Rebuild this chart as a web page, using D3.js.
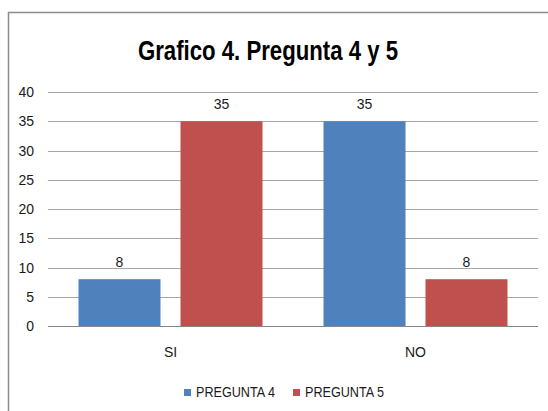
<!DOCTYPE html>
<html>
<head>
<meta charset="utf-8">
<script src="https://cdn.jsdelivr.net/npm/d3@7"></script>
<style>
  body { margin: 0; background: #fff; }
  text { font-family: "Liberation Sans", Arial, sans-serif; }
</style>
</head>
<body>
<div id="chart"></div>
<script>
// chart data
var categories = ["SI", "NO"];
var seriesNames = ["PREGUNTA 4", "PREGUNTA 5"];
var pregunta4 = [8, 35];
var pregunta5 = [35, 8];
var yTicks = [0, 5, 10, 15, 20, 25, 30, 35, 40];

var colors = ["#4F81BD", "#C0504D"];
var width = 548, height = 411;
var margin = {top: 92, right: 10, bottom: 85, left: 48};
var plotW = width - margin.left - margin.right;
var plotH = height - margin.top - margin.bottom;

var svg = d3.select("#chart").append("svg")
    .attr("width", width)
    .attr("height", height);

// outer frame (continues past the right and bottom edges)
svg.append("rect")
    .attr("x", 8.5).attr("y", 12.5)
    .attr("width", 600).attr("height", 500)
    .attr("fill", "none")
    .attr("stroke", "#8c8c8c")
    .attr("stroke-width", 1.5);

svg.append("text")
    .attr("x", 138).attr("y", 60)
    .attr("font-size", 27)
    .attr("font-weight", "bold")
    .attr("fill", "#000")
    .attr("textLength", 260)
    .attr("lengthAdjust", "spacingAndGlyphs")
    .text("Grafico 4. Pregunta 4 y 5");

var g = svg.append("g")
    .attr("transform", "translate(" + margin.left + "," + margin.top + ")");

var x0 = d3.scaleBand().domain(categories).range([0, plotW]);
var x1 = d3.scaleBand().domain(seriesNames)
    .range([30.5, x0.bandwidth() - 30.5])
    .paddingInner(0.196);
var y = d3.scaleLinear().domain([0, 40]).range([plotH, 0]);

// gridlines
g.selectAll(".grid").data(yTicks).enter().append("line")
    .attr("x1", 0).attr("x2", plotW)
    .attr("y1", function(d) { return Math.round(y(d)) + 0.5; })
    .attr("y2", function(d) { return Math.round(y(d)) + 0.5; })
    .attr("stroke", function(d) { return d === 0 ? "#868686" : "#a6a6a6"; })
    .attr("stroke-width", 1.2);

// y axis labels
g.selectAll(".ylab").data(yTicks).enter().append("text")
    .attr("x", -14)
    .attr("y", function(d) { return y(d) + 5; })
    .attr("text-anchor", "end")
    .attr("font-size", 14)
    .attr("fill", "#1a1a1a")
    .text(function(d) { return d; });

var rows = categories.map(function(c, i) {
    return {cat: c, values: [pregunta4[i], pregunta5[i]]};
});

var groups = g.selectAll(".grp").data(rows).enter().append("g")
    .attr("transform", function(d) { return "translate(" + x0(d.cat) + ",0)"; });

groups.selectAll("rect")
    .data(function(d) { return d.values.map(function(v, j) { return {s: seriesNames[j], v: v, j: j}; }); })
    .enter().append("rect")
    .attr("x", function(d) { return x1(d.s); })
    .attr("width", x1.bandwidth())
    .attr("y", function(d) { return y(d.v); })
    .attr("height", function(d) { return plotH - y(d.v); })
    .attr("fill", function(d) { return colors[d.j]; });

groups.selectAll(".val")
    .data(function(d) { return d.values.map(function(v, j) { return {s: seriesNames[j], v: v}; }); })
    .enter().append("text")
    .attr("x", function(d) { return x1(d.s) + x1.bandwidth() / 2; })
    .attr("y", function(d) { return y(d.v) - 12; })
    .attr("text-anchor", "middle")
    .attr("font-size", 14)
    .attr("fill", "#1a1a1a")
    .text(function(d) { return d.v; });

// category labels
g.selectAll(".xlab").data(categories).enter().append("text")
    .attr("x", function(d) { return x0(d) + x0.bandwidth() / 2; })
    .attr("y", plotH + 31)
    .attr("text-anchor", "middle")
    .attr("font-size", 14)
    .attr("fill", "#1a1a1a")
    .text(function(d) { return d; });

// legend
var legendX = [184, 293];
var legend = svg.selectAll(".legend").data(seriesNames).enter().append("g")
    .attr("transform", function(d, i) { return "translate(" + legendX[i] + ",389)"; });
legend.append("rect")
    .attr("width", 7).attr("height", 7)
    .attr("fill", function(d, i) { return colors[i]; });
legend.append("text")
    .attr("x", 12).attr("y", 8)
    .attr("font-size", 14)
    .attr("fill", "#1a1a1a")
    .attr("textLength", 79)
    .attr("lengthAdjust", "spacingAndGlyphs")
    .text(function(d) { return d; });
</script>
</body>
</html>
